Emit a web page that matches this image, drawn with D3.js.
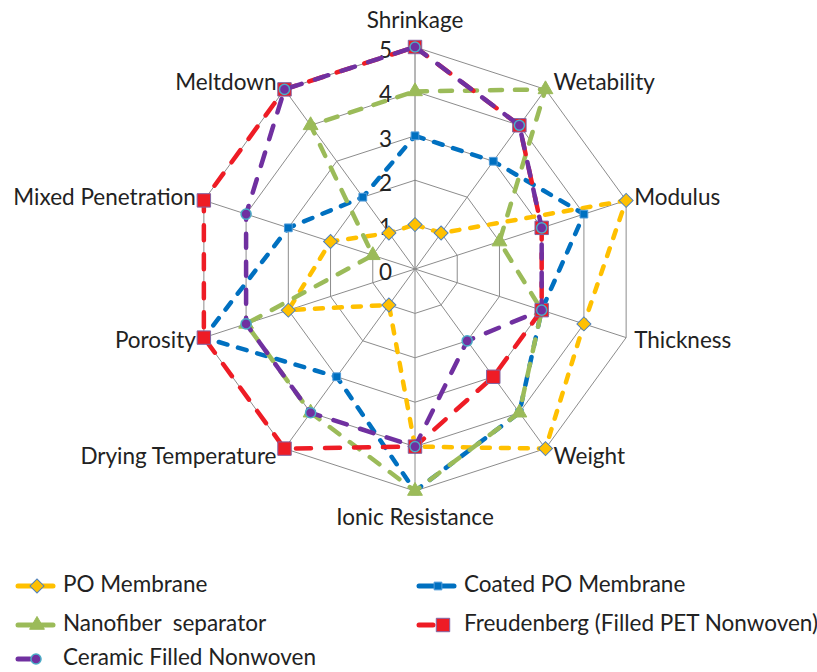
<!DOCTYPE html>
<html>
<head>
<meta charset="utf-8">
<script src="https://cdn.jsdelivr.net/npm/d3@7"></script>
<style>
  body { margin: 0; background: #fff; }
  text { font-family: Lato, "Liberation Sans", sans-serif; fill: #222; white-space: pre; }
</style>
</head>
<body>
<script>

// chart data
const categories = ['Shrinkage', 'Wetability', 'Modulus', 'Thickness', 'Weight',
                    'Ionic Resistance', 'Drying Temperature', 'Porosity',
                    'Mixed Penetration', 'Meltdown'];
const tickValues = [0, 1, 2, 3, 4, 5];

const seriesNames = ['PO Membrane', 'Coated PO Membrane', 'Nanofiber  separator',
                     'Freudenberg (Filled PET Nonwoven)', 'Ceramic Filled Nonwoven'];
const poMembrane  = [1, 1, 5, 4, 5, 4, 1, 3, 2, 1];
const coatedPO    = [3, 3, 4, 3, 4, 5, 3, 5, 3, 2];
const nanofiber   = [4, 5, 2, 3, 4, 5, 4, 4, 1, 4];
const freudenberg = [5, 4, 3, 3, 3, 4, 5, 5, 5, 5];
const ceramic     = [5, 4, 3, 3, 2, 4, 4, 4, 4, 5];

const allSeries = [poMembrane, coatedPO, nanofiber, freudenberg, ceramic];

// look of each series
const styles = [
  { color: '#FFC000', dash: '8 11',  symbol: 'diamond',  size: 98,  stroke: '#4F81BD' },
  { color: '#0070C0', dash: '9 11',  symbol: 'square',   size: 60,  stroke: '#4F9BD9' },
  { color: '#9BBB59', dash: '12 13', symbol: 'triangle', size: 95,  stroke: '#9BBB59' },
  { color: '#EE1C25', dash: '15 14', symbol: 'square',   size: 180, stroke: '#8064A2' },
  { color: '#7030A0', dash: '14 14', symbol: 'circle',   size: 80,  stroke: '#4BACC6' }
];

const width = 817, height = 672;
const cx = 415, cy = 269, R = 222;
const fontSize = '22.5px';

const SVG = d3.select('body')
              .append('svg')
              .attr('width', width)
              .attr('height', height);

const rScale = d3.scaleLinear()
                 .domain([0, 5])
                 .range([0, R]);
const aScale = d3.scaleLinear()
                 .domain([0, categories.length])
                 .range([0, 2 * Math.PI]);

const px = (i, v) => cx + rScale(v) * Math.sin(aScale(i));
const py = (i, v) => cy - rScale(v) * Math.cos(aScale(i));

const chart = SVG.append('g');

// grid rings
tickValues.filter(t => t > 0).forEach(t => {
  chart.append('path')
       .attr('d', d3.line()(categories.map((c, i) => [px(i, t), py(i, t)])) + 'Z')
       .attr('fill', 'none')
       .attr('stroke', '#8c8c8c')
       .attr('stroke-width', 1);
});

// spokes
chart.selectAll('.spoke')
     .data(categories)
     .enter()
     .append('line')
     .attr('class', 'spoke')
     .attr('x1', cx).attr('y1', cy)
     .attr('x2', (d, i) => px(i, 5))
     .attr('y2', (d, i) => py(i, 5))
     .attr('stroke', (d, i) => i === 0 ? '#6e6e6e' : '#8c8c8c')
     .attr('stroke-width', 1);

// value axis labels
chart.selectAll('.tick')
     .data(tickValues)
     .enter()
     .append('text')
     .attr('class', 'tick')
     .attr('x', cx - 23)
     .attr('y', d => cy - rScale(d) + 5)
     .attr('text-anchor', 'end')
     .attr('dominant-baseline', 'middle')
     .style('font-size', fontSize)
     .text(d => d);

// category labels
chart.selectAll('.cat')
     .data(categories)
     .enter()
     .append('text')
     .attr('class', 'cat')
     .attr('x', (d, i) => {
       const s = Math.sin(aScale(i));
       return Math.abs(s) < 0.01 ? cx : px(i, 5) + (s > 0 ? 8 : -8);
     })
     .attr('y', (d, i) => {
       const c = Math.cos(aScale(i));
       if (Math.abs(Math.sin(aScale(i))) < 0.01) return py(i, 5) - (c > 0 ? 25 : -28);
       return py(i, 5) - 9 * c + 2;
     })
     .attr('text-anchor', (d, i) => {
       const s = Math.sin(aScale(i));
       return Math.abs(s) < 0.01 ? 'middle' : (s > 0 ? 'start' : 'end');
     })
     .attr('dominant-baseline', 'middle')
     .style('font-size', fontSize)
     .text(d => d);

const symbolTypes = {
  diamond: d3.symbolSquare,
  square: d3.symbolSquare,
  triangle: d3.symbolTriangle,
  circle: d3.symbolCircle
};

function marker(sel, st) {
  sel.attr('d', d3.symbol().type(symbolTypes[st.symbol]).size(st.size))
     .attr('fill', st.color)
     .attr('stroke', st.stroke)
     .attr('stroke-width', st.symbol === 'circle' ? 1.5 : 1);
}

const radarLine = d3.line()
                    .x((d, i) => px(i, d))
                    .y((d, i) => py(i, d));

// series lines and markers
allSeries.forEach((values, k) => {
  const st = styles[k];
  const g = chart.append('g');

  g.append('path')
   .attr('d', radarLine(values) + 'Z')
   .attr('fill', 'none')
   .attr('stroke', st.color)
   .attr('stroke-width', 4.5)
   .attr('stroke-linecap', 'round')
   .attr('stroke-dasharray', st.dash);

  g.selectAll('path.mk')
   .data(values)
   .enter()
   .append('path')
   .attr('class', 'mk')
   .attr('transform', (d, i) => `translate(${px(i, d)},${py(i, d)})` + (st.symbol === 'diamond' ? ' rotate(45)' : ''))
   .call(marker, st);
});

// legend
const legendPos = [[16, 586], [417, 586], [16, 625], [417, 625], [16, 659]];
const legend = SVG.append('g');

seriesNames.forEach((name, k) => {
  const st = styles[k];
  const [lx, ly] = legendPos[k];
  const item = legend.append('g');
  const lineEnd = (k === 3) ? lx + 18 : (k === 4 ? lx + 16 : lx + 39);
  const mx = (k === 3) ? lx + 26 : (k === 4 ? lx + 20 : lx + 21);

  item.append('line')
      .attr('x1', lx + 2).attr('x2', lineEnd - 2)
      .attr('y1', ly).attr('y2', ly)
      .attr('stroke', st.color)
      .attr('stroke-width', 5)
      .attr('stroke-linecap', 'round');

  item.append('path')
      .attr('transform', `translate(${mx},${ly})` + (st.symbol === 'diamond' ? ' rotate(45)' : ''))
      .call(marker, st);

  item.append('text')
      .attr('x', lx + 47)
      .attr('y', ly)
      .attr('dominant-baseline', 'middle')
      .style('font-size', fontSize)
      .text(name);
});

</script>
</body>
</html>
